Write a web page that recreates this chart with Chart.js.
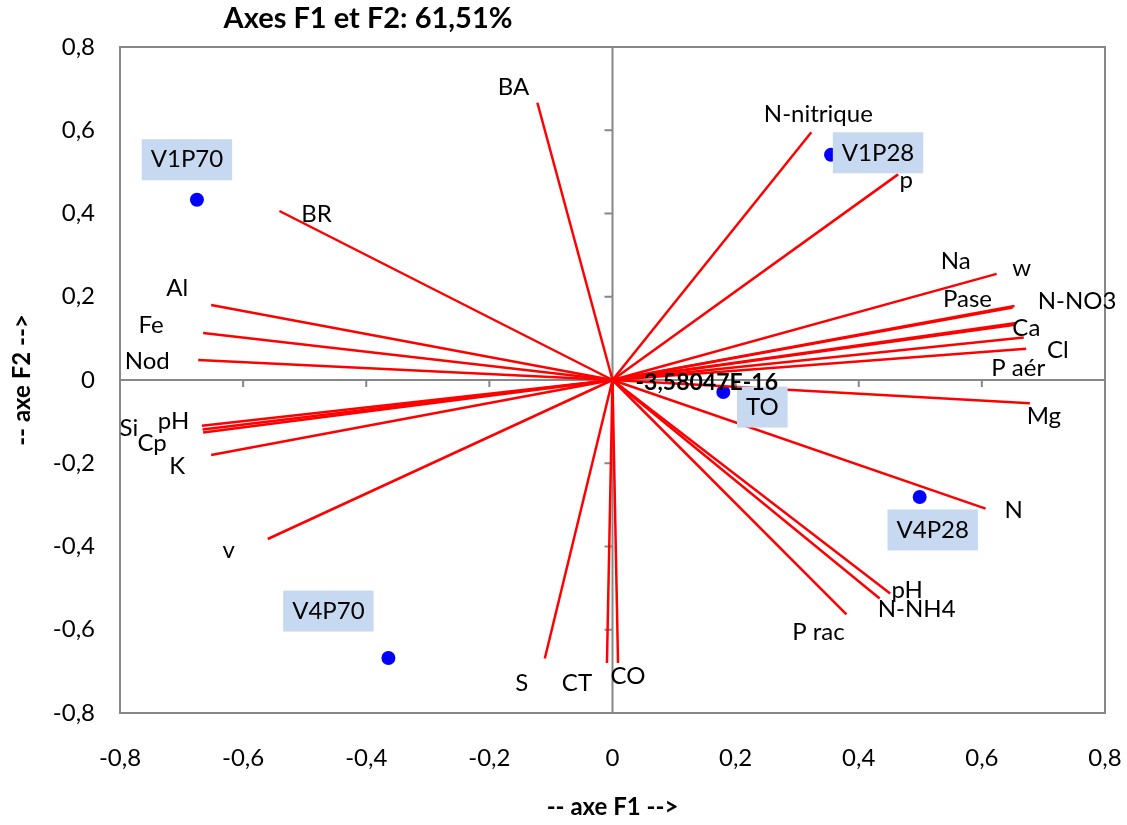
<!DOCTYPE html>
<html>
<head>
<meta charset="utf-8">
<title>ACP - Axes F1 et F2</title>
<script src="https://cdn.jsdelivr.net/npm/chart.js@4.4.0/dist/chart.umd.min.js"></script>
<style>
  body { margin: 0; background: #ffffff; }
  #wrap { width: 1127px; height: 825px; }
</style>
</head>
<body>
<div id="wrap"><canvas id="acp" width="1127" height="825"></canvas></div>
<script>
// variables : coordonnées sur F1 et F2
var varNames = ['BA', 'BR', 'Al', 'Fe', 'Nod', 'Si', 'pH', 'Cp', 'K', 'v', 'S', 'CT', 'CO',
	'P rac', 'N-NH4', 'pH', 'N', 'Mg', 'P aér', 'Cl', 'Ca', 'N-NO3', 'Pase', 'Na', 'w', 'p', 'N-nitrique'];
var varF1 = [-0.122, -0.541, -0.652, -0.665, -0.673, -0.667, -0.666, -0.665, -0.652, -0.560, -0.110, -0.009, 0.009,
	0.380, 0.434, 0.451, 0.606, 0.678, 0.672, 0.668, 0.656, 0.654, 0.653, 0.650, 0.624, 0.464, 0.323];
var varF2 = [0.666, 0.406, 0.180, 0.113, 0.048, -0.110, -0.119, -0.126, -0.180, -0.382, -0.669, -0.680, -0.680,
	-0.563, -0.525, -0.513, -0.309, -0.056, 0.075, 0.102, 0.137, 0.133, 0.178, 0.174, 0.255, 0.494, 0.595];

// observations
var obsNames = ['V1P70', 'V1P28', 'TO', 'V4P28', 'V4P70'];
var obsF1 = [-0.675, 0.355, 0.180, 0.499, -0.364];
var obsF2 = [0.433, 0.541, -0.029, -0.281, -0.668];

// graduations des deux axes
var axisTicks = [-0.8, -0.6, -0.4, -0.2, 0, 0.2, 0.4, 0.6, 0.8];
var originText = '-3,58047E-16';

// placement des étiquettes (px, centre du texte par rapport au point)
var varLabelShift = [[-24,-16],[37,3],[-34,-17],[-52,-8],[-51,1],[-73,2],[-29,-8],[-51,11],[-34,11],[-39,11],
	[-23,25],[-30,20],[10,13],[-28,18],[37,11],[17,-3],[28,2],[14,13],[-8,19],[34,13],[10,5],[62,-23],
	[-47,-7],[-57,-46],[25,-6],[8,6],[7,-18]];
var obsLabelShift = [[-10,-40],[47,-2],[39,15],[13,33],[-60,-47]];

var FONT = 'Lato, "Open Sans", sans-serif';

function fmt(v) {
	var r = Math.round(v * 10) / 10;
	if (r === 0) return '0';
	return r.toFixed(1).replace('.', ',');
}

var datasets = [];
for (var i = 0; i < varNames.length; i++) {
	datasets.push({
		label: varNames[i],
		data: [{x: 0, y: 0}, {x: varF1[i], y: varF2[i]}],
		showLine: true,
		borderColor: '#ff0000',
		borderWidth: 2.5,
		pointRadius: 0,
		fill: false
	});
}
datasets.push({
	label: 'observations',
	data: obsF1.map(function(v, k) { return {x: v, y: obsF2[k]}; }),
	showLine: false,
	pointRadius: 7,
	pointBackgroundColor: '#0000ff',
	pointBorderWidth: 0
});

// axes passant par zéro, cadre, étiquettes et titre
var decor = {
	id: 'decor',
	beforeDatasetsDraw: function(chart) {
		var ctx = chart.ctx, a = chart.chartArea;
		var xs = chart.scales.x, ys = chart.scales.y;
		var x0 = xs.getPixelForValue(0), y0 = ys.getPixelForValue(0);
		ctx.save();
		ctx.strokeStyle = '#878787';
		ctx.lineWidth = 2;
		ctx.strokeRect(a.left, a.top, a.right - a.left, a.bottom - a.top);
		ctx.beginPath();
		ctx.moveTo(a.left, y0); ctx.lineTo(a.right, y0);
		ctx.moveTo(x0, a.top); ctx.lineTo(x0, a.bottom);
		axisTicks.forEach(function(v) {
			var px = xs.getPixelForValue(v);
			ctx.moveTo(px, y0); ctx.lineTo(px, y0 + 7);
			var py = ys.getPixelForValue(v);
			ctx.moveTo(x0, py); ctx.lineTo(x0 - 8, py);
		});
		ctx.stroke();
		ctx.restore();
	},
	afterDatasetsDraw: function(chart) {
		var ctx = chart.ctx;
		var xs = chart.scales.x, ys = chart.scales.y;
		ctx.save();
		ctx.fillStyle = '#000000';
		ctx.textAlign = 'center';
		ctx.textBaseline = 'middle';
		ctx.font = '24px ' + FONT;
		for (var i = 0; i < varNames.length; i++) {
			var px = xs.getPixelForValue(varF1[i]) + varLabelShift[i][0];
			var py = ys.getPixelForValue(varF2[i]) + varLabelShift[i][1];
			ctx.fillText(varNames[i], px, py);
		}
		// étiquettes des observations sur fond bleu clair
		for (var k = 0; k < obsNames.length; k++) {
			var cx = xs.getPixelForValue(obsF1[k]) + obsLabelShift[k][0];
			var cy = ys.getPixelForValue(obsF2[k]) + obsLabelShift[k][1];
			var w = ctx.measureText(obsNames[k]).width + 18;
			ctx.fillStyle = '#c6d9f1';
			ctx.fillRect(cx - w / 2, cy - 20.5, w, 41);
			ctx.fillStyle = '#000000';
			ctx.fillText(obsNames[k], cx, cy);
		}
		// valeur à l'origine
		ctx.font = 'bold 23px ' + FONT;
		ctx.textAlign = 'left';
		ctx.fillText(originText, xs.getPixelForValue(0) + 23, ys.getPixelForValue(0) + 3);
		// titre
		ctx.font = 'bold 29px ' + FONT;
		ctx.textAlign = 'center';
		ctx.fillText('Axes F1 et F2: 61,51%', 368, 19);
		ctx.restore();
	}
};

new Chart(document.getElementById('acp'), {
	type: 'scatter',
	data: {datasets: datasets},
	options: {
		responsive: false,
		animation: false,
		layout: {padding: {top: 47, right: 22, left: 0, bottom: 0}},
		plugins: {
			legend: {display: false},
			tooltip: {enabled: false},
			title: {display: false}
		},
		scales: {
			x: {
				type: 'linear',
				min: -0.8,
				max: 0.8,
				afterBuildTicks: function(s) { s.ticks = axisTicks.map(function(v) { return {value: v}; }); },
				afterFit: function(s) { s.height = 112; s.paddingLeft = 0; s.paddingRight = 0; },
				grid: {display: false, drawTicks: false},
				border: {display: false},
				ticks: {
					color: '#000000',
					font: {family: FONT, size: 24},
					padding: 31,
					maxRotation: 0,
					callback: function(v) { return fmt(v); }
				},
				title: {
					display: true,
					text: '-- axe F1 -->',
					color: '#000000',
					font: {family: FONT, size: 24, weight: 'bold'},
					padding: {top: 0, bottom: 3}
				}
			},
			y: {
				type: 'linear',
				min: -0.8,
				max: 0.8,
				afterBuildTicks: function(s) { s.ticks = axisTicks.map(function(v) { return {value: v}; }); },
				afterFit: function(s) { s.width = 120; s.paddingTop = 0; s.paddingBottom = 0; },
				grid: {display: false, drawTicks: false},
				border: {display: false},
				ticks: {
					color: '#000000',
					font: {family: FONT, size: 24},
					padding: 25,
					callback: function(v) { return fmt(v); }
				},
				title: {
					display: true,
					text: '-- axe F2 -->',
					color: '#000000',
					font: {family: FONT, size: 24, weight: 'bold'},
					padding: {top: 8, bottom: 0}
				}
			}
		}
	},
	plugins: [decor]
});
</script>
</body>
</html>
